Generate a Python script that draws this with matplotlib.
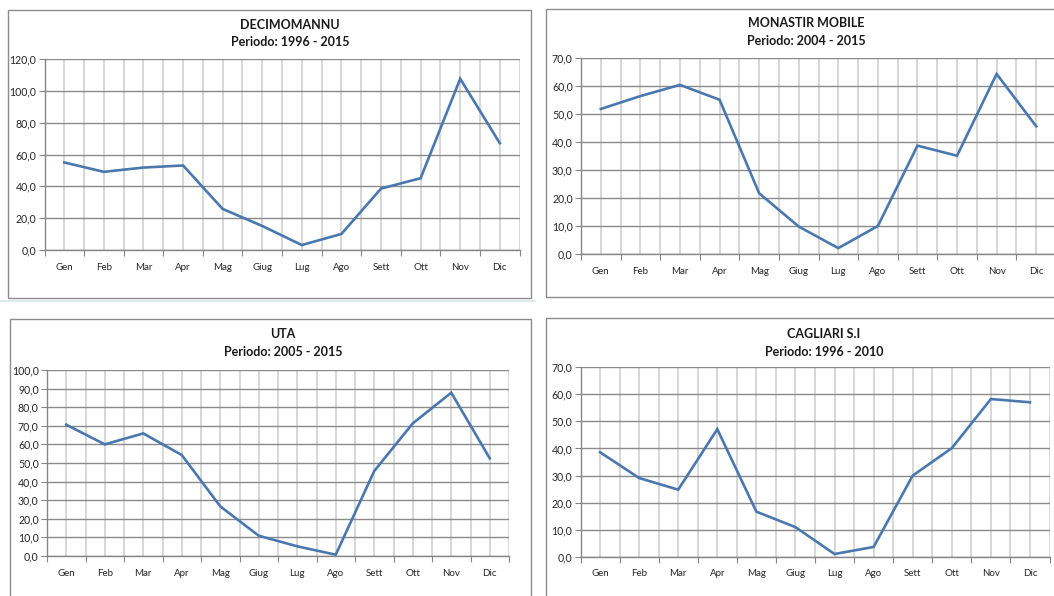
import numpy as np
import matplotlib
matplotlib.use("Agg")
import matplotlib.pyplot as plt
from matplotlib.patches import Rectangle
from matplotlib.ticker import FuncFormatter

plt.rcParams['font.family'] = ['Lato', 'DejaVu Sans']

mesi = ['Gen', 'Feb', 'Mar', 'Apr', 'Mag', 'Giug', 'Lug', 'Ago', 'Sett', 'Ott', 'Nov', 'Dic']

decimomannu = [55.0, 49.1, 51.8, 53.1, 25.8, 15.1, 3.1, 10.1, 38.6, 45.1, 107.6, 67.1]
monastir = [51.8, 56.4, 60.4, 55.1, 21.7, 9.8, 2.1, 10.0, 38.7, 35.1, 64.3, 45.6]
uta = [70.6, 60.0, 65.9, 54.3, 26.7, 10.9, 5.2, 0.7, 45.7, 71.3, 87.8, 52.5]
cagliari = [38.6, 29.1, 24.8, 47.1, 16.7, 11.0, 1.1, 3.7, 30.0, 40.1, 58.2, 57.0]

stazioni = ['DECIMOMANNU', 'MONASTIR MOBILE', 'UTA', 'CAGLIARI S.I']
periodi = ['Periodo: 1996 - 2015', 'Periodo: 2004 - 2015', 'Periodo: 2005 - 2015', 'Periodo: 1996 - 2010']
serie = [decimomannu, monastir, uta, cagliari]
y_max = [120, 70, 100, 70]
y_step = [20, 10, 10, 10]

W, H = 1054, 596
fig = plt.figure(figsize=(W / 100, H / 100), dpi=100)
fig.patch.set_facecolor('white')

# layout in pixels: plot area (left, right, top, bottom), chart frame (x0, x1, y0, y1), title centre
plot_px = [(44.5, 519.6, 59, 250), (581, 1056, 58, 254),
           (47, 509, 370, 556), (580.5, 1049.5, 367, 557)]
frame_px = [(8, 531, 10, 298), (546, 1062, 9, 297),
            (10, 531, 319, 604), (546, 1062, 318, 604)]
title_px = [(290, 25, 42), (806, 23, 41), (283, 334, 352), (824, 334, 352)]

grid_h = '#8a8a8a'
grid_v = '#cdcdcd'
line_col = '#4A78AE'


def virgola(v, pos):
    return f'{v:.1f}'.replace('.', ',')


# thin light selection line under the first chart
fig.add_artist(plt.Line2D([0, 535 / W], [1 - 300.5 / H, 1 - 300.5 / H],
                          transform=fig.transFigure, color='#d6e6e6', lw=1.2))

x = np.arange(len(mesi))
for i in range(4):
    fx0, fx1, fy0, fy1 = frame_px[i]
    fig.add_artist(Rectangle((fx0 / W, 1 - fy1 / H), (fx1 - fx0) / W, (fy1 - fy0) / H,
                             transform=fig.transFigure, fill=False,
                             edgecolor='#8c8c8c', lw=1.0))

    l, r, t, b = plot_px[i]
    ax = fig.add_axes([l / W, 1 - b / H, (r - l) / W, (b - t) / H])
    ax.set_facecolor('none')
    ax.plot(x, serie[i], color=line_col, lw=1.9, solid_joinstyle='miter', zorder=3)

    ax.set_xlim(-0.5, len(mesi) - 0.5)
    ax.set_ylim(0, y_max[i])
    ax.set_yticks(np.arange(0, y_max[i] + 0.1, y_step[i]))
    ax.yaxis.set_major_formatter(FuncFormatter(virgola))

    ax.set_xticks(x)
    ax.set_xticklabels(mesi)
    ax.set_xticks(np.arange(-0.5, len(mesi)), minor=True)

    ax.grid(axis='y', which='major', color=grid_h, lw=1.0, zorder=1)
    ax.grid(axis='x', which='both', color=grid_v, lw=1.1, zorder=1)
    ax.set_axisbelow(True)

    for s in ['top', 'right']:
        ax.spines[s].set_visible(False)
    for s in ['left', 'bottom']:
        ax.spines[s].set_color('#868686')
        ax.spines[s].set_linewidth(1.0)

    ax.tick_params(axis='x', which='major', length=0, pad=9, labelsize=7, labelcolor='#262626')
    ax.tick_params(axis='x', which='minor', length=4, width=0.8, color='#868686', direction='out')
    ax.tick_params(axis='y', length=4, width=0.8, color='#868686', pad=2,
                   labelsize=7.6, labelcolor='#262626')

    cx, ty1, ty2 = title_px[i]
    fig.text(cx / W, 1 - ty1 / H, stazioni[i], ha='center', va='center',
             fontsize=9, fontweight='bold', color='#1a1a1a')
    fig.text(cx / W, 1 - ty2 / H, periodi[i], ha='center', va='center',
             fontsize=9, fontweight='bold', color='#1a1a1a')

fig.savefig('out.png', dpi=100, facecolor='white')
